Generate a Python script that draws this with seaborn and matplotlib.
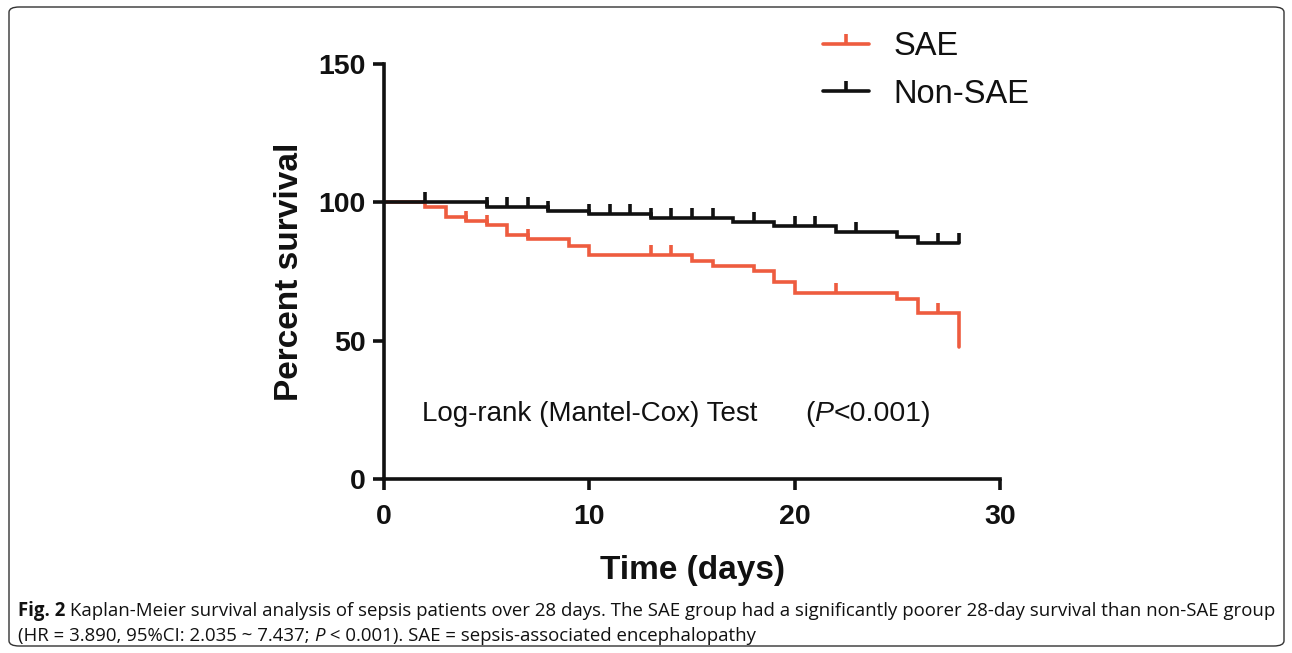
"""
Kaplan-Meier survival plot: SAE vs non-SAE sepsis patients over 28 days
"""

import numpy as np
import pandas as pd
import matplotlib
matplotlib.use('Agg')
import matplotlib.pyplot as plt
import seaborn as sns
from matplotlib.lines import Line2D
from matplotlib.path import Path
from matplotlib.patches import FancyBboxPatch
from matplotlib.transforms import IdentityTransform

# Survival step curves (day, % survival after that day)
sae_days = [0, 2, 3, 4, 5, 6, 7, 9, 10, 15, 16, 18, 19, 20, 25, 26, 28, 28]
sae_survival = [100, 98.4, 94.6, 93.2, 91.8, 88.3, 86.8, 84.3, 80.8, 78.9,
                77.0, 75.1, 71.3, 67.4, 65.0, 59.9, 59.9, 47.7]
sae_censored = [4, 5, 7, 13, 14, 22, 27]

non_sae_days = [0, 5, 8, 10, 13, 17, 19, 22, 25, 26, 28]
non_sae_survival = [100, 98.4, 97.0, 95.9, 94.5, 93.0, 91.4, 89.4, 87.3, 85.4, 85.4]
non_sae_censored = [2, 5, 6, 7, 8, 10, 11, 12, 13, 14, 15, 16, 18, 20, 21, 23, 27, 28]

group_names = ['SAE', 'Non-SAE']
group_colors = ['#EE5C3F', '#111111']

x_ticks = [0, 10, 20, 30]
y_ticks = [0, 50, 100, 150]

caption_line1 = [
    ('Fig. 2', 'bold'),
    (' Kaplan-Meier survival analysis of sepsis patients over 28 days. The SAE group '
     'had a significantly poorer 28-day survival than non-SAE group', 'normal'),
]
caption_line2 = [
    ('(HR = 3.890, 95%CI: 2.035 ~ 7.437; ', 'normal'),
    ('P', 'italic'),
    (' < 0.001). SAE = sepsis-associated encephalopathy', 'normal'),
]

W, H = 1292, 653

# censor tick: short vertical stroke going up from the curve
TICK = Path([(0, 0), (0, 1)])


def level_at(days, surv, t):
    """Survival level of a step curve at time t"""
    i = np.searchsorted(days, t, side='right') - 1
    return surv[i]


def draw_rich(fig, x, y, pieces, family, size):
    """Draw text pieces one after another on a line, in pixel coordinates"""
    renderer = fig.canvas.get_renderer()
    for text, style in pieces:
        weight = 'bold' if style == 'bold' else 'normal'
        fstyle = 'italic' if style == 'italic' else 'normal'
        t = fig.text(x, y, text, transform=IdentityTransform(), ha='left', va='baseline',
                     family=family, fontsize=size, fontweight=weight, fontstyle=fstyle,
                     color='#111111')
        x = t.get_window_extent(renderer).x1
    return x


def line_width(fig, pieces, family, size):
    renderer = fig.canvas.get_renderer()
    total = 0
    for text, style in pieces:
        t = fig.text(0, 0, text, family=family, fontsize=size,
                     fontweight='bold' if style == 'bold' else 'normal',
                     fontstyle='italic' if style == 'italic' else 'normal')
        total += t.get_window_extent(renderer).width
        t.remove()
    return total


def main():
    sns.set_style('ticks')
    plt.rcParams['font.family'] = ['Liberation Sans', 'DejaVu Sans']
    plt.rcParams['text.color'] = '#111111'
    plt.rcParams['axes.labelcolor'] = '#111111'
    plt.rcParams['xtick.color'] = '#111111'
    plt.rcParams['ytick.color'] = '#111111'

    fig = plt.figure(figsize=(W / 100, H / 100), dpi=100)
    ax = fig.add_axes([384 / W, 1 - 479 / H, 616 / W, 415 / H])

    curves = [
        (sae_days, sae_survival, sae_censored),
        (non_sae_days, non_sae_survival, non_sae_censored),
    ]
    for (days, surv, cens), name, color in zip(curves, group_names, group_colors):
        df = pd.DataFrame({'day': days, 'survival': surv})
        sns.lineplot(data=df, x='day', y='survival', estimator=None, sort=False,
                     drawstyle='steps-post', color=color, linewidth=2.6, ax=ax,
                     solid_joinstyle='miter')
        cy = [level_at(days, surv, t) for t in cens]
        ax.plot(cens, cy, linestyle='none', marker=TICK, markersize=14,
                markeredgewidth=2.6, color=color, clip_on=False)

    ax.set_xlim(0, 30)
    ax.set_ylim(0, 150)
    ax.set_xticks(x_ticks)
    ax.set_yticks(y_ticks)
    sns.despine(ax=ax)
    for side in ['left', 'bottom']:
        ax.spines[side].set_linewidth(2.6)
        ax.spines[side].set_color('#111111')
    ax.tick_params(axis='both', width=2.6, length=8, labelsize=20.5)
    ax.tick_params(axis='x', pad=10)
    ax.tick_params(axis='y', pad=5)
    for lab in ax.get_xticklabels() + ax.get_yticklabels():
        lab.set_fontweight('bold')
    ax.set_xlabel('Time (days)', fontsize=24, fontweight='bold', labelpad=18)
    ax.set_ylabel('Percent survival', fontsize=24, fontweight='bold', labelpad=10)

    # legend
    handles = [Line2D([0], [0], color=c, linewidth=2.6, marker=TICK, markersize=14,
                      markeredgewidth=2.6) for c in group_colors]
    fig.legend(handles, group_names, loc='upper left', bbox_to_anchor=(794 / W, 1 - 2 / H),
               frameon=False, fontsize=23.5, handlelength=1.4, handletextpad=0.75,
               labelspacing=0.5, numpoints=1)

    # log-rank annotation
    px, py = ax.transData.transform((1.85, 20.8))
    ax.text(1.85, 20.8, 'Log-rank (Mantel-Cox) Test', fontsize=20, va='baseline')
    qx, _ = ax.transData.transform((20.5, 0))
    draw_rich(fig, qx, py, [('(', 'normal'), ('P', 'italic'), ('<0.001)', 'normal')],
              'Liberation Sans', 20.5)

    # caption, sized so the first line spans the frame width
    cap_family = 'Open Sans'
    base = 10
    w = line_width(fig, caption_line1, cap_family, base)
    size = base * 1257 / w
    draw_rich(fig, 18, H - 616, caption_line1, cap_family, size)
    draw_rich(fig, 18, H - 641, caption_line2, cap_family, size)

    # rounded frame around the figure
    frame = FancyBboxPatch((9 / W, 7 / H), 1275 / W, 639 / H,
                           boxstyle='round,pad=0,rounding_size=0.008',
                           transform=fig.transFigure, fill=False,
                           edgecolor='#333333', linewidth=1.0)
    fig.patches.append(frame)

    fig.savefig('out.png', dpi=100)
    plt.close(fig)


if __name__ == '__main__':
    main()
